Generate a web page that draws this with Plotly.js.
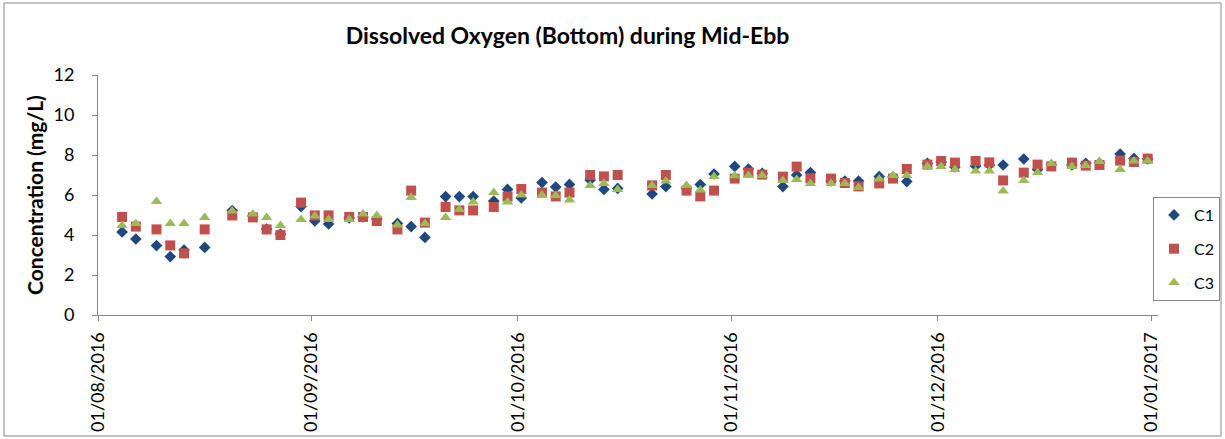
<!DOCTYPE html>
<html>
<head>
<meta charset="utf-8">
<script src="https://cdn.plot.ly/plotly-3.0.1.min.js"></script>
<style>
  html, body { margin: 0; padding: 0; background: #fff; }
  #chart { width: 1225px; height: 439px; }
</style>
</head>
<body>
<div id="chart"></div>
<script>
// Sampling dates (dd/mm/yyyy -> ISO)
const dates = [
  "2016-08-04","2016-08-06","2016-08-09","2016-08-11","2016-08-13","2016-08-16","2016-08-20",
  "2016-08-23","2016-08-25","2016-08-27","2016-08-30","2016-09-01","2016-09-03","2016-09-06",
  "2016-09-08","2016-09-10","2016-09-13","2016-09-15","2016-09-17","2016-09-20","2016-09-22",
  "2016-09-24","2016-09-27","2016-09-29","2016-10-01","2016-10-04","2016-10-06","2016-10-08",
  "2016-10-11","2016-10-13","2016-10-15","2016-10-20","2016-10-22","2016-10-25","2016-10-27",
  "2016-10-29","2016-11-01","2016-11-03","2016-11-05","2016-11-08","2016-11-10","2016-11-12",
  "2016-11-15","2016-11-17","2016-11-19","2016-11-22","2016-11-24","2016-11-26","2016-11-29",
  "2016-12-01","2016-12-03","2016-12-06","2016-12-08","2016-12-10","2016-12-13","2016-12-15",
  "2016-12-17","2016-12-20","2016-12-22","2016-12-24","2016-12-27","2016-12-29","2016-12-31"
];

const c1 = [
  4.15,3.80,3.47,2.92,3.25,3.38,5.22,4.95,4.30,4.05,5.42,4.70,4.55,4.85,4.90,4.80,4.58,4.42,3.88,
  5.92,5.92,5.92,5.70,6.28,5.85,6.62,6.40,6.53,6.75,6.28,6.33,6.05,6.42,6.35,6.52,7.05,7.43,7.30,
  7.08,6.42,7.00,7.12,6.70,6.70,6.70,6.92,6.90,6.67,7.58,7.65,7.40,7.45,7.50,7.50,7.80,7.28,7.50,
  7.50,7.58,7.60,8.05,7.83,7.80
];

const c2 = [
  4.90,4.42,4.28,3.48,3.08,4.28,4.98,4.88,4.28,4.00,5.62,4.98,4.98,4.90,4.90,4.70,4.28,6.22,4.62,
  5.40,5.23,5.23,5.40,5.92,6.30,6.12,5.93,6.12,7.00,6.93,7.00,6.48,7.00,6.22,5.93,6.22,6.82,7.12,
  7.02,6.92,7.42,6.83,6.82,6.60,6.43,6.58,6.82,7.30,7.52,7.70,7.62,7.70,7.63,6.73,7.12,7.52,7.43,
  7.62,7.47,7.50,7.72,7.65,7.82
];

const c3 = [
  4.47,4.58,5.68,4.58,4.58,4.88,5.20,5.05,4.88,4.48,4.78,4.95,4.78,4.78,5.05,4.98,4.50,5.88,4.58,
  4.88,5.28,5.65,6.12,5.65,6.00,6.00,5.98,5.75,6.48,6.58,6.28,6.48,6.70,6.48,6.25,6.92,6.96,6.98,
  6.98,6.72,6.78,6.58,6.58,6.58,6.38,6.80,6.98,6.98,7.42,7.42,7.28,7.20,7.20,6.20,6.72,7.12,7.58,
  7.42,7.48,7.67,7.28,7.70,7.70
];

const seriesNames = ["C1", "C2", "C3"];
const tickDates = ["2016-08-01","2016-09-01","2016-10-01","2016-11-01","2016-12-01","2017-01-01"];
const tickLabels = ["01/08/2016","01/09/2016","01/10/2016","01/11/2016","01/12/2016","01/01/2017"];
const yTicks = [0, 2, 4, 6, 8, 10, 12];

// Excel date axis places each day's point in the middle of its day slot
const xMid = dates.map(d => d + " 12:00");

const FONT = "Lato, 'Open Sans', sans-serif";
const styles = [
  {symbol: "diamond", color: "#1F497D", size: 9},
  {symbol: "square", color: "#C0504D", size: 10},
  {symbol: "triangle-up", color: "#9BBB59", size: 10}
];
const values = [c1, c2, c3];

const traces = values.map((v, i) => ({
  type: "scatter",
  mode: "markers",
  name: seriesNames[i],
  legendgroup: "g" + i,
  x: xMid,
  y: v,
  marker: {symbol: styles[i].symbol, color: styles[i].color, size: styles[i].size, line: {width: 0}},
  hoverinfo: "x+y+name"
}));

const L = 98, R = 1158, T = 75, B = 315;
const W = 1225, H = 439;
const px = x => (x - L) / (R - L);
const py = y => (B - y) / (B - T);

const layout = {
  width: W, height: H,
  margin: {l: L, r: W - R, t: T, b: H - B, pad: 0, autoexpand: false},
  paper_bgcolor: "#fff",
  plot_bgcolor: "#fff",
  font: {family: FONT, color: "#000", size: 18},
  showlegend: true,
  title: {
    text: "Dissolved Oxygen (Bottom) during Mid-Ebb",
    font: {family: FONT, size: 23, color: "#000", weight: 700},
    x: px(567.5), xanchor: "center", xref: "paper",
    y: 1 - 36 / H, yanchor: "middle", yref: "container"
  },
  xaxis: {
    type: "date",
    range: ["2016-08-01", "2017-01-02"],
    tickmode: "array",
    tickvals: tickDates,
    ticktext: tickLabels,
    tickangle: -90,
    ticks: "outside", ticklen: 5, tickcolor: "#868686", tickwidth: 1,
    showline: true, linecolor: "#868686", linewidth: 1,
    showgrid: false, zeroline: false,
    tickfont: {family: FONT, size: 18, color: "#000"},
    ticklabelstandoff: 4,
    automargin: false,
    fixedrange: true
  },
  yaxis: {
    range: [0, 12],
    tickmode: "array",
    tickvals: yTicks,
    ticks: "outside", ticklen: 5, tickcolor: "#868686", tickwidth: 1,
    showline: true, linecolor: "#868686", linewidth: 1,
    showgrid: false, zeroline: false,
    tickfont: {family: FONT, size: 18, color: "#000"},
    ticklabelstandoff: 14,
    automargin: false,
    title: {text: "Concentration (mg/L)", font: {family: FONT, size: 21, color: "#000", weight: 700}, standoff: 4},
    fixedrange: true
  },
  legend: {
    x: px(1220), xanchor: "right",
    y: py(197), yanchor: "top",
    bordercolor: "#868686", borderwidth: 1,
    bgcolor: "#fff",
    font: {family: FONT, size: 16, color: "#000"},
    itemwidth: 30,
    tracegroupgap: 10
  },
  shapes: [{
    type: "rect", xref: "paper", yref: "paper",
    x0: px(4), x1: px(1221), y0: py(436), y1: py(3),
    line: {color: "#868686", width: 1}, fillcolor: "rgba(0,0,0,0)", layer: "below"
  }]
};

Plotly.newPlot("chart", traces, layout, {displayModeBar: false, staticPlot: true});
</script>
</body>
</html>
